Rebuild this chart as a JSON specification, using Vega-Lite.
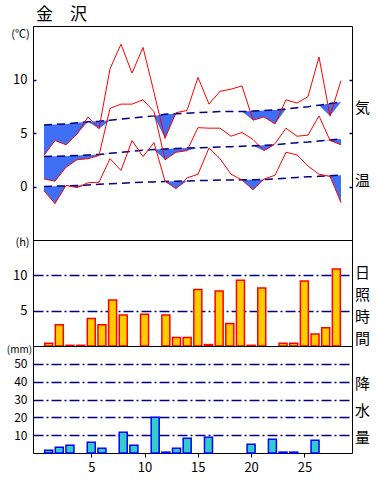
{
  "$schema": "https://vega.github.io/schema/vega-lite/v6.json",
  "padding": {"left": 5, "top": 5, "right": 0, "bottom": 0},
  "bounds": "flush",
  "title": {"text": "金　沢", "anchor": "start", "frame": "group", "font": "Noto Sans CJK JP", "fontSize": 17, "fontWeight": "normal", "color": "black", "offset": 2, "dx": 3},
  "spacing": 0,
  "config": {
    "view": {"stroke": "black", "strokeWidth": 1},
    "axis": {"labelFont": "Noto Sans CJK JP", "labelFontSize": 13, "labelColor": "black", "domain": false, "titleFont": "Noto Sans CJK JP", "titleFontWeight": "normal", "titleColor": "black"}
  },
  "data": {"values": [
    {"day": 1, "tmax": 2.9, "tmean": 0.7, "tmin": -0.4, "nmax": 5.75, "nmean": 2.8, "nmin": 0.0, "lmax": 2.9, "lmean": 0.7, "lmin": -0.4, "sun": 0.4, "rain": 1.5},
    {"day": 2, "tmax": 4.3, "tmean": 0.5, "tmin": -1.6, "nmax": 5.8, "nmean": 2.83, "nmin": 0.03, "lmax": 4.3, "lmean": 0.5, "lmin": -1.6, "sun": 3.0, "rain": 3.2},
    {"day": 3, "tmax": 3.9, "tmean": 1.8, "tmin": 0.1, "nmax": 5.85, "nmean": 2.86, "nmin": 0.06, "lmax": 3.9, "lmean": 1.8, "lmin": 0.06, "sun": 0.1, "rain": 4.3},
    {"day": 4, "tmax": 4.9, "tmean": 2.5, "tmin": -0.1, "nmax": 5.95, "nmean": 2.9, "nmin": 0.1, "lmax": 4.9, "lmean": 2.5, "lmin": -0.1, "sun": 0.1, "rain": null},
    {"day": 5, "tmax": 6.5, "tmean": 2.6, "tmin": 0.35, "nmax": 6.05, "nmean": 2.95, "nmin": 0.15, "lmax": 6.05, "lmean": 2.6, "lmin": 0.15, "sun": 3.9, "rain": 6.0},
    {"day": 6, "tmax": 5.4, "tmean": 2.9, "tmin": 0.4, "nmax": 6.1, "nmean": 3.0, "nmin": 0.2, "lmax": 5.4, "lmean": 2.9, "lmin": 0.2, "sun": 3.0, "rain": 2.6},
    {"day": 7, "tmax": 11.0, "tmean": 7.3, "tmin": 2.6, "nmax": 6.2, "nmean": 3.1, "nmin": 0.25, "lmax": 6.2, "lmean": 3.1, "lmin": 0.25, "sun": 6.5, "rain": null},
    {"day": 8, "tmax": 13.3, "tmean": 7.7, "tmin": 1.5, "nmax": 6.3, "nmean": 3.2, "nmin": 0.3, "lmax": 6.3, "lmean": 3.2, "lmin": 0.3, "sun": 4.4, "rain": 11.7},
    {"day": 9, "tmax": 10.6, "tmean": 7.7, "tmin": 4.3, "nmax": 6.4, "nmean": 3.3, "nmin": 0.35, "lmax": 6.4, "lmean": 3.3, "lmin": 0.35, "sun": null, "rain": 4.3},
    {"day": 10, "tmax": 13.0, "tmean": 8.1, "tmin": 2.8, "nmax": 6.5, "nmean": 3.4, "nmin": 0.4, "lmax": 6.5, "lmean": 3.4, "lmin": 0.4, "sun": 4.5, "rain": null},
    {"day": 11, "tmax": 8.8, "tmean": 7.0, "tmin": 4.1, "nmax": 6.6, "nmean": 3.45, "nmin": 0.43, "lmax": 6.6, "lmean": 3.45, "lmin": 0.43, "sun": null, "rain": 20.0},
    {"day": 12, "tmax": 4.5, "tmean": 2.5, "tmin": 0.5, "nmax": 6.75, "nmean": 3.5, "nmin": 0.47, "lmax": 4.5, "lmean": 2.5, "lmin": 0.47, "sun": 4.4, "rain": 0.5},
    {"day": 13, "tmax": 6.9, "tmean": 3.2, "tmin": -0.2, "nmax": 6.8, "nmean": 3.55, "nmin": 0.5, "lmax": 6.8, "lmean": 3.2, "lmin": -0.2, "sun": 1.2, "rain": 2.6},
    {"day": 14, "tmax": 7.1, "tmean": 3.35, "tmin": 0.8, "nmax": 6.85, "nmean": 3.6, "nmin": 0.52, "lmax": 6.85, "lmean": 3.35, "lmin": 0.52, "sun": 1.2, "rain": 8.3},
    {"day": 15, "tmax": 10.2, "tmean": 5.5, "tmin": 1.15, "nmax": 6.9, "nmean": 3.62, "nmin": 0.55, "lmax": 6.9, "lmean": 3.62, "lmin": 0.55, "sun": 8.0, "rain": null},
    {"day": 16, "tmax": 7.7, "tmean": 5.45, "tmin": 3.6, "nmax": 6.95, "nmean": 3.65, "nmin": 0.57, "lmax": 6.95, "lmean": 3.65, "lmin": 0.57, "sun": 0.2, "rain": 8.9},
    {"day": 17, "tmax": 8.9, "tmean": 5.45, "tmin": 2.6, "nmax": 7.0, "nmean": 3.7, "nmin": 0.6, "lmax": 7.0, "lmean": 3.7, "lmin": 0.6, "sun": 7.8, "rain": null},
    {"day": 18, "tmax": 9.1, "tmean": 4.7, "tmin": 1.15, "nmax": 7.0, "nmean": 3.72, "nmin": 0.6, "lmax": 7.0, "lmean": 3.72, "lmin": 0.6, "sun": 3.2, "rain": null},
    {"day": 19, "tmax": 9.4, "tmean": 5.05, "tmin": 0.6, "nmax": 7.0, "nmean": 3.76, "nmin": 0.62, "lmax": 7.0, "lmean": 3.76, "lmin": 0.6, "sun": 9.3, "rain": null},
    {"day": 20, "tmax": 6.2, "tmean": 4.4, "tmin": -0.3, "nmax": 7.05, "nmean": 3.8, "nmin": 0.64, "lmax": 6.2, "lmean": 3.8, "lmin": -0.3, "sun": 0.1, "rain": 4.9},
    {"day": 21, "tmax": 6.5, "tmean": 3.35, "tmin": 0.7, "nmax": 7.1, "nmean": 3.85, "nmin": 0.66, "lmax": 6.5, "lmean": 3.35, "lmin": 0.66, "sun": 8.2, "rain": null},
    {"day": 22, "tmax": 5.85, "tmean": 4.0, "tmin": 1.05, "nmax": 7.15, "nmean": 3.9, "nmin": 0.7, "lmax": 5.85, "lmean": 3.9, "lmin": 0.7, "sun": null, "rain": 7.7},
    {"day": 23, "tmax": 8.1, "tmean": 5.45, "tmin": 3.2, "nmax": 7.25, "nmean": 4.0, "nmin": 0.78, "lmax": 7.25, "lmean": 4.0, "lmin": 0.78, "sun": 0.4, "rain": 0.5},
    {"day": 24, "tmax": 7.8, "tmean": 4.7, "tmin": 2.95, "nmax": 7.35, "nmean": 4.1, "nmin": 0.85, "lmax": 7.35, "lmean": 4.1, "lmin": 0.85, "sun": 0.4, "rain": 0.5},
    {"day": 25, "tmax": 8.4, "tmean": 4.8, "tmin": 1.9, "nmax": 7.45, "nmean": 4.15, "nmin": 0.9, "lmax": 7.45, "lmean": 4.15, "lmin": 0.9, "sun": 9.2, "rain": null},
    {"day": 26, "tmax": 12.1, "tmean": 6.6, "tmin": 1.15, "nmax": 7.6, "nmean": 4.25, "nmin": 0.95, "lmax": 7.6, "lmean": 4.25, "lmin": 0.95, "sun": 1.7, "rain": 7.2},
    {"day": 27, "tmax": 6.6, "tmean": 4.3, "tmin": 0.95, "nmax": 7.75, "nmean": 4.35, "nmin": 1.0, "lmax": 6.6, "lmean": 4.3, "lmin": 0.95, "sun": 2.6, "rain": null},
    {"day": 28, "tmax": 9.9, "tmean": 3.9, "tmin": -1.5, "nmax": 7.9, "nmean": 4.45, "nmin": 1.06, "lmax": 7.9, "lmean": 3.9, "lmin": -1.5, "sun": 10.9, "rain": null}
  ]},
  "vconcat": [
    {
      "width": 319, "height": 214,
      "encoding": {"x": {"field": "day", "type": "quantitative", "scale": {"domain": [0, 29], "nice": false}, "axis": null}},
      "layer": [
        {"mark": {"type": "area", "color": "#3F6FF5"},
         "encoding": {"y": {"field": "nmax", "type": "quantitative", "scale": {"domain": [-5, 15], "nice": false, "zero": false},
            "axis": {"values": [0, 5, 10], "tickSize": -3, "tickColor": "#000080", "tickWidth": 1.5, "labelPadding": 9, "grid": false,
              "title": "(℃)", "titleAngle": 0, "titleFontSize": 11, "titleAlign": "center", "titleBaseline": "middle", "titleX": -13, "titleY": 8}},
          "y2": {"field": "lmax"}}},
        {"mark": {"type": "area", "color": "#3F6FF5"}, "encoding": {"y": {"field": "nmean", "type": "quantitative", "axis": null}, "y2": {"field": "lmean"}}},
        {"mark": {"type": "area", "color": "#3F6FF5"}, "encoding": {"y": {"field": "nmin", "type": "quantitative", "axis": null}, "y2": {"field": "lmin"}}},
        {"mark": {"type": "line", "color": "#000080", "strokeWidth": 1.5, "strokeDash": [8, 5]},
         "encoding": {"y": {"field": "nmax", "type": "quantitative",
            "axis": {"orient": "right", "values": [0, 5, 10], "labels": false, "tickSize": -3, "tickColor": "#000080", "tickWidth": 1.5, "grid": false,
              "title": ["気", "温"], "titleAngle": 0, "titleFontSize": 15, "titleLineHeight": 73, "titleAlign": "center", "titleBaseline": "middle", "titleX": 10, "titleY": 81}}}},
        {"mark": {"type": "line", "color": "#000080", "strokeWidth": 1.5, "strokeDash": [8, 5]}, "encoding": {"y": {"field": "nmean", "type": "quantitative", "axis": null}}},
        {"mark": {"type": "line", "color": "#000080", "strokeWidth": 1.5, "strokeDash": [8, 5]}, "encoding": {"y": {"field": "nmin", "type": "quantitative", "axis": null}}},
        {"mark": {"type": "line", "color": "#FF0000", "strokeWidth": 1}, "encoding": {"y": {"field": "tmax", "type": "quantitative", "axis": null}}},
        {"mark": {"type": "line", "color": "#FF0000", "strokeWidth": 1}, "encoding": {"y": {"field": "tmean", "type": "quantitative", "axis": null}}},
        {"mark": {"type": "line", "color": "#FF0000", "strokeWidth": 1}, "encoding": {"y": {"field": "tmin", "type": "quantitative", "axis": null}}}
      ],
      "resolve": {"axis": {"y": "independent"}}
    },
    {
      "width": 319, "height": 106,
      "encoding": {"x": {"field": "day", "type": "quantitative", "scale": {"domain": [0, 29], "nice": false}, "axis": null}},
      "layer": [
        {"mark": {"type": "bar", "color": "#FFCC00", "stroke": "#FF0000", "strokeWidth": 1.5, "size": 8},
         "encoding": {"y": {"field": "sun", "type": "quantitative", "scale": {"domain": [0, 15], "nice": false},
            "axis": {"values": [5, 10], "ticks": false, "labelPadding": 6, "grid": true, "gridColor": "#000080", "gridWidth": 1.5, "gridDash": [10, 3, 2, 3],
              "title": "(h)", "titleAngle": 0, "titleFontSize": 11, "titleAlign": "center", "titleBaseline": "middle", "titleX": -11, "titleY": 2}}}},
        {"mark": {"type": "bar", "opacity": 0, "size": 8},
         "encoding": {"y": {"field": "sun", "type": "quantitative",
            "axis": {"orient": "right", "labels": false, "ticks": false, "grid": false,
              "title": ["日", "照", "時", "間"], "titleAngle": 0, "titleFontSize": 15, "titleLineHeight": 22, "titleAlign": "center", "titleBaseline": "middle", "titleX": 10, "titleY": 32}}}}
      ],
      "resolve": {"axis": {"y": "independent"}}
    },
    {
      "width": 319, "height": 107,
      "encoding": {"x": {"field": "day", "type": "quantitative", "scale": {"domain": [0, 29], "nice": false},
        "axis": {"values": [5, 10, 15, 20, 25], "ticks": true, "tickSize": 4, "tickColor": "black", "labelPadding": 4, "grid": false, "title": null}}},
      "layer": [
        {"mark": {"type": "bar", "color": "#33CCCC", "stroke": "#0000FF", "strokeWidth": 1.5, "size": 8},
         "encoding": {"y": {"field": "rain", "type": "quantitative", "scale": {"domain": [0, 60], "nice": false},
            "axis": {"values": [10, 20, 30, 40, 50], "ticks": false, "labelPadding": 6, "labelFontSize": 12, "grid": true, "gridColor": "#000080", "gridWidth": 1.5, "gridDash": [10, 3, 2, 3],
              "title": "(mm)", "titleAngle": 0, "titleFontSize": 10, "titleAlign": "center", "titleBaseline": "middle", "titleX": -14, "titleY": 3}}}},
        {"mark": {"type": "bar", "opacity": 0, "size": 8},
         "encoding": {"y": {"field": "rain", "type": "quantitative",
            "axis": {"orient": "right", "labels": false, "ticks": false, "grid": false,
              "title": ["降", "水", "量"], "titleAngle": 0, "titleFontSize": 15, "titleLineHeight": 27, "titleAlign": "center", "titleBaseline": "middle", "titleX": 10, "titleY": 37}}}}
      ],
      "resolve": {"axis": {"y": "independent"}}
    }
  ]
}
